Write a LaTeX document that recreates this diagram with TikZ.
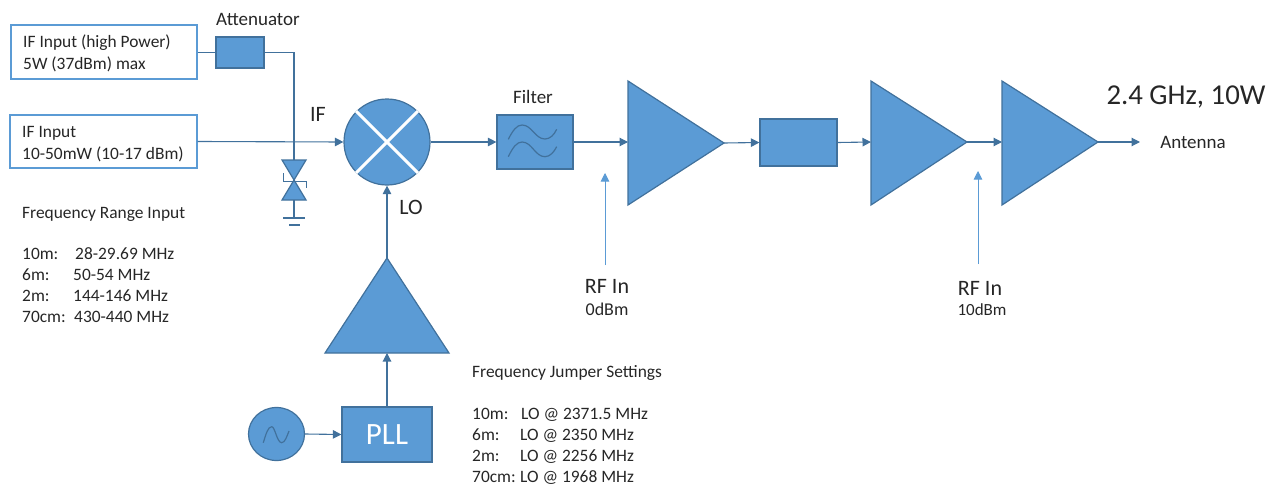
\documentclass[tikz,border=0pt]{standalone}
\usepackage{fontspec}
\setmainfont{Carlito}
\usetikzlibrary{arrows.meta,shapes.geometric}
\definecolor{fillb}{HTML}{5B9BD5}
\definecolor{lineb}{HTML}{41719C}
\definecolor{txt}{HTML}{262626}
\tikzset{
  x=1pt,y=-1pt,
  block/.style={draw=lineb,fill=fillb,line width=1.2pt,inner sep=0pt,minimum width=#1},
  inbox/.style={draw=fillb,fill=white,line width=1.4pt,inner sep=0pt,minimum width=186pt,minimum height=53pt},
  conn/.style={draw=lineb,line width=1.1pt},
  arrow/.style={conn,-{Triangle[length=8.5pt,width=8.5pt]}},
  rfarrow/.style={draw=fillb,line width=.7pt,-{Triangle[length=8.5pt,width=8.5pt]}},
  tri/.style={draw=lineb,fill=fillb,line width=1.2pt,line join=miter},
  label/.style={text=txt,inner sep=0pt,font=\fontsize{19}{19}\selectfont},
  biglabel/.style={text=txt,inner sep=0pt,font=\fontsize{22}{22}\selectfont},
  small/.style={text=txt,inner sep=0pt,anchor=base west,yshift=-1pt,font=\fontsize{17.4}{17.4}\selectfont},
  wave/.style={draw=lineb,line width=1.2pt},
}
\begin{document}
\begin{tikzpicture}
\useasboundingbox (0,0) rectangle (1279,487);
% input boxes
\node[inbox,minimum width=186pt,minimum height=54pt] (hp) at (104,52) {};
\node[inbox,minimum width=187pt,minimum height=53pt] (lp) at (103.5,141.5) {};
\node[small] (hpa) at (23,47) {IF Input (high Power)};
\node[small] (hpb) at (23,69) {5W (37dBm) max};
\node[small] (lpa) at (22,136) {IF Input};
\node[small] (lpb) at (22,158) {10-50mW (10-17 dBm)};
\node[block=48pt,minimum height=31pt] (att) at (240,52.5) {};
\node[label] (attl) at (258,19) {Attenuator};
% mixer
\node[circle,draw=lineb,fill=fillb,line width=1.2pt,minimum size=86pt,inner sep=0pt] (mix) at (387,142) {};
\draw[white,line width=3pt] (mix.45) -- (mix.225);
\draw[white,line width=3pt] (mix.135) -- (mix.315);
\node[biglabel] (ifl) at (318,114) {IF};
\node[biglabel] (lol) at (411,207) {LO};
% diode
\coordinate (dtop) at (294,160);
\coordinate (dmid) at (294,180);
\coordinate (dbot) at (294,200);
\coordinate (gnd) at (294,218);
\draw[tri] (282,160) -- (306,160) -- (dmid) -- cycle;
\draw[tri] (282,200) -- (306,200) -- (dmid) -- cycle;
\draw[conn,line width=1pt] (283,173) -- (283,181) -- (306,181) -- (306,188);
\draw[conn] (dbot) -- (gnd);
\draw[conn] (283,218) -- (305,218);
\draw[conn] (289,225) -- (300,225);
% connectors left
\draw[conn] (hp.east |- att.west) -- (att.west);
\draw[conn] (att.east) -| (dtop);
\draw[arrow] (lp.east) -- (mix.west);
% filter
\node[block=76pt,minimum height=54pt] (filt) at (535,142) {};
\draw[wave] (508.3,139.3) .. controls (513,130) and (517,125) .. (522,125) .. controls (532,125) and (535,139) .. (545,139) .. controls (550,139) and (554,135) .. (556.7,129.3);
\draw[wave] (508.3,156.7) .. controls (513,147) and (517,142) .. (522,142) .. controls (532,142) and (535,156.7) .. (545,156.7) .. controls (550,156.7) and (554,152) .. (556.7,146.7);
\node[label] (filtl) at (533,97) {Filter};
\draw[arrow] (mix.east) -- (filt.west);
% amp 1
\coordinate (a1in) at (628,142);
\coordinate (a1out) at (724,143);
\draw[tri] (628,81) -- (a1out) -- (628,205) -- cycle;
\draw[arrow] (filt.east) -- (a1in);
% middle block
\node[block=77pt,minimum height=47pt] (mid) at (798.5,142.5) {};
\draw[arrow] (a1out) -- (mid.west);
% amp 2
\coordinate (a2in) at (871,142);
\coordinate (a2out) at (967,142);
\draw[tri] (871,81) -- (a2out) -- (871,205) -- cycle;
\draw[arrow] (mid.east) -- (a2in);
% amp 3
\coordinate (a3in) at (1002,142);
\coordinate (a3out) at (1098,142);
\draw[tri] (1002,81) -- (a3out) -- (1002,205) -- cycle;
\draw[arrow] (a2out) -- (a3in);
\coordinate (ant) at (1140,142);
\draw[arrow] (a3out) -- (ant);
\node[label] (antl) at (1193,142) {Antenna};
\node[label,font=\fontsize{28.8}{28.8}\selectfont] (pow) at (1186,97) {2.4 GHz, 10W};
% RF in
\node[biglabel] (rf1) at (607,286) {RF In};
\node[label,font=\fontsize{18}{18}\selectfont] (rf1b) at (607,309) {0dBm};
\node[biglabel] (rf2) at (980,288) {RF In};
\node[label,font=\fontsize{17}{17}\selectfont] (rf2b) at (982,310) {10dBm};
\coordinate (rf1s) at (605,265);
\coordinate (rf1e) at (605,173);
\coordinate (rf2s) at (978,264);
\coordinate (rf2e) at (978,171);
\draw[rfarrow] (rf1s) -- (rf1e);
\draw[rfarrow] (rf2s) -- (rf2e);
% LO chain
\coordinate (lotop) at (387,258);
\coordinate (lobase) at (387,353);
\draw[tri] (lotop) -- (449,353) -- (325,353) -- cycle;
\draw[arrow] (lotop) -- (mix.south);
\node[block=90pt,minimum height=55pt,text=white,font=\fontsize{31}{31}\selectfont] (pll) at (387,434.5) {PLL};
\draw[arrow] (pll.north) -- (lobase);
\node[ellipse,draw=lineb,fill=fillb,line width=1.2pt,minimum width=56pt,minimum height=53pt,inner sep=0pt] (osc) at (276.5,434) {};
\draw[wave] (263.3,442.7) .. controls (266,434) and (268,426.7) .. (271.7,426.7) .. controls (275,426.7) and (277,442.7) .. (281.7,442.7) .. controls (285,442.7) and (287,436) .. (289,431);
\draw[arrow] (osc.east) -- (pll.west);
% text
\node[small] (fr) at (22,217) {Frequency Range Input};
\node[small] (r1) at (22,258) {10m:};
\node[small] (r1b) at (75,258) {28-29.69 MHz};
\node[small] (r2) at (22,279) {6m:};
\node[small] (r2b) at (73,279) {50-54 MHz};
\node[small] (r3) at (22,300) {2m:};
\node[small] (r3b) at (73,300) {144-146 MHz};
\node[small] (r4) at (22,321) {70cm:};
\node[small] (r4b) at (74,321) {430-440 MHz};
\node[small] (fj) at (472,376) {Frequency Jumper Settings};
\node[small] (j1) at (472,418) {10m:};
\node[small] (j1b) at (521,418) {LO @ 2371.5 MHz};
\node[small] (j2) at (472,439) {6m:};
\node[small] (j2b) at (520,439) {LO @ 2350 MHz};
\node[small] (j3) at (472,460) {2m:};
\node[small] (j3b) at (520,460) {LO @ 2256 MHz};
\node[small] (j4) at (472,481) {70cm:};
\node[small] (j4b) at (520,481) {LO @ 1968 MHz};
\end{tikzpicture}
\end{document}
